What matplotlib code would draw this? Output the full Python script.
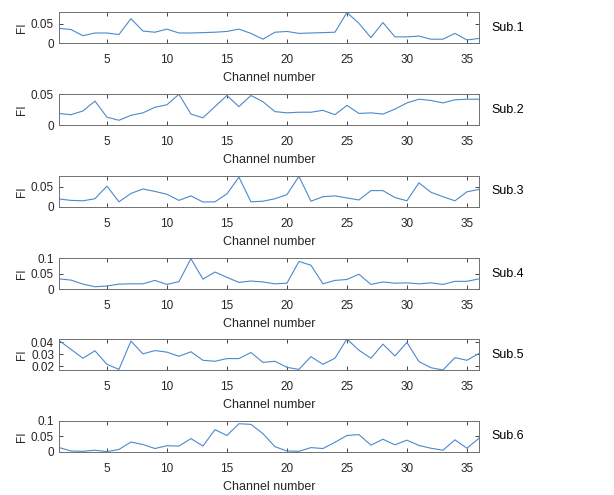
import numpy as np
import matplotlib.pyplot as plt

plt.rcParams['font.family'] = ['Liberation Sans', 'DejaVu Sans']

channels = np.arange(1, 37)

fi_sub1 = [0.038, 0.035, 0.019, 0.026, 0.026, 0.022, 0.063, 0.031, 0.028, 0.036,
           0.026, 0.026, 0.027, 0.028, 0.030, 0.036, 0.025, 0.010, 0.028, 0.030,
           0.025, 0.026, 0.027, 0.028, 0.079, 0.051, 0.014, 0.053, 0.016, 0.016,
           0.018, 0.010, 0.010, 0.025, 0.008, 0.012]
fi_sub2 = [0.019, 0.017, 0.023, 0.039, 0.013, 0.008, 0.016, 0.020, 0.029, 0.033,
           0.050, 0.018, 0.012, 0.030, 0.048, 0.030, 0.048, 0.038, 0.022, 0.020,
           0.021, 0.021, 0.024, 0.017, 0.032, 0.019, 0.020, 0.018, 0.026, 0.036,
           0.042, 0.040, 0.036, 0.041, 0.042, 0.042]
fi_sub3 = [0.0195, 0.016, 0.015, 0.020, 0.051, 0.0125, 0.033, 0.044, 0.038, 0.031,
           0.016, 0.027, 0.012, 0.0125, 0.032, 0.073, 0.0125, 0.014, 0.020, 0.030,
           0.075, 0.014, 0.025, 0.027, 0.022, 0.017, 0.040, 0.040, 0.023, 0.015,
           0.059, 0.036, 0.025, 0.015, 0.037, 0.043]
fi_sub4 = [0.033, 0.029, 0.016, 0.0075, 0.010, 0.016, 0.017, 0.017, 0.028, 0.015,
           0.024, 0.098, 0.032, 0.055, 0.038, 0.0215, 0.026, 0.023, 0.017, 0.019,
           0.089, 0.077, 0.017, 0.028, 0.031, 0.048, 0.015, 0.023, 0.019, 0.020,
           0.017, 0.020, 0.015, 0.025, 0.025, 0.033]
fi_sub5 = [0.0414, 0.034, 0.0267, 0.0328, 0.0217, 0.0175, 0.0408, 0.0303, 0.033, 0.0317,
           0.0283, 0.032, 0.025, 0.0242, 0.0264, 0.0264, 0.0314, 0.0233, 0.0242, 0.0192,
           0.0175, 0.028, 0.0217, 0.0267, 0.0425, 0.0333, 0.0267, 0.0383, 0.0286, 0.0397,
           0.0239, 0.0189, 0.017, 0.0272, 0.025, 0.0306]
fi_sub6 = [0.0144, 0.003, 0.002, 0.0055, 0.001, 0.008, 0.032, 0.024, 0.011, 0.020,
           0.019, 0.043, 0.019, 0.072, 0.053, 0.091, 0.089, 0.059, 0.017, 0.003,
           0.002, 0.014, 0.011, 0.031, 0.053, 0.056, 0.022, 0.041, 0.023, 0.038,
           0.021, 0.012, 0.0055, 0.039, 0.012, 0.044]

subjects = ['Sub.1', 'Sub.2', 'Sub.3', 'Sub.4', 'Sub.5', 'Sub.6']
series = [fi_sub1, fi_sub2, fi_sub3, fi_sub4, fi_sub5, fi_sub6]
ylims = [(0, 0.08), (0, 0.05), (0, 0.076), (0, 0.1), (0.017, 0.0425), (0, 0.1)]
yticks = [[0, 0.05], [0, 0.05], [0, 0.05], [0, 0.05, 0.1],
          [0.02, 0.03, 0.04], [0, 0.05, 0.1]]
ytick_labels = [['0', '0.05'], ['0', '0.05'], ['0', '0.05'], ['0', '0.05', '0.1'],
                ['0.02', '0.03', '0.04'], ['0', '0.05', '0.1']]

fig = plt.figure(figsize=(6.14, 4.95), dpi=100)
bottoms = [0.913, 0.747, 0.582, 0.416, 0.2525, 0.087]
axis_color = '#262626'

for i in range(6):
    ax = fig.add_axes([0.096, bottoms[i], 0.684, 0.0626])
    ax.plot(channels, series[i], color='#4a8acb', linewidth=0.8)
    ax.set_xlim(1, 36)
    ax.set_ylim(*ylims[i])
    ax.set_xticks([5, 10, 15, 20, 25, 30, 35])
    ax.set_yticks(yticks[i])
    ax.set_yticklabels(ytick_labels[i])
    ax.tick_params(direction='in', top=True, right=True, length=3, width=0.6,
                   labelsize=8.5, colors=axis_color)
    ax.tick_params(axis='x', pad=8)
    ax.tick_params(axis='y', pad=3.5)
    for sp in ax.spines.values():
        sp.set_color('#6f6f6f')
        sp.set_linewidth(0.7)
    ax.set_xlabel('Channel number', fontsize=9, color=axis_color, labelpad=4)
    ax.set_ylabel('FI', fontsize=8.5, color=axis_color, labelpad=2)
    ax.text(1.03, 0.5, subjects[i], transform=ax.transAxes, va='center',
            ha='left', fontsize=9, color='black')

fig.savefig('out.png', dpi=100)
